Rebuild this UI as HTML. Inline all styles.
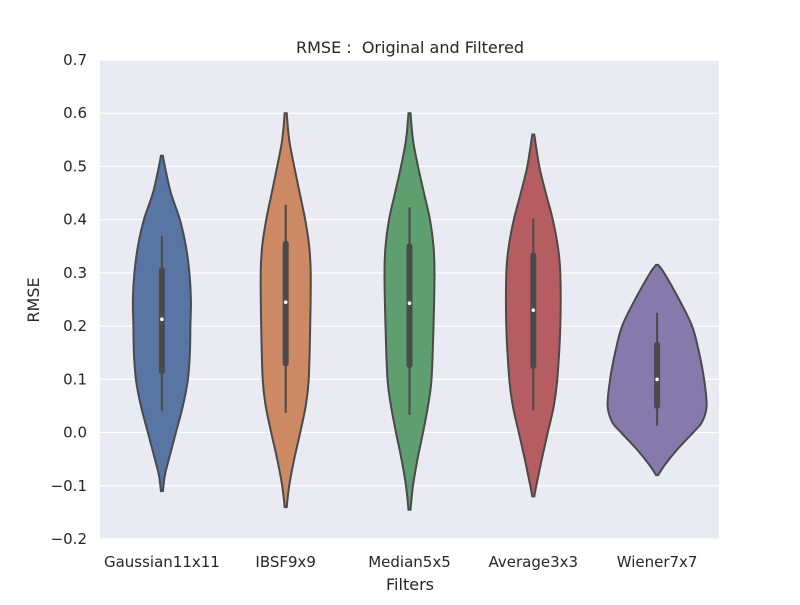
<!DOCTYPE html>
<html><head><meta charset="utf-8">
<style>
body{margin:0;background:#fff;}
svg text{font-family:"DejaVu Sans","Liberation Sans",sans-serif;fill:#262626;white-space:pre;}
</style></head>
<body>
<svg id="chart" width="800" height="600" viewBox="0 0 800 600" xmlns="http://www.w3.org/2000/svg">
<rect x="100" y="60" width="619" height="479" fill="#eaeaf2"/>
<g id="grid"></g>
<g id="violins"></g>
<g id="ticks"></g>
<text x="410" y="53" text-anchor="middle" font-size="16">RMSE :&#160; Original and Filtered</text>
<text x="410" y="590" text-anchor="middle" font-size="16">Filters</text>
<text x="39" y="300" text-anchor="middle" font-size="16" transform="rotate(-90 39 300)">RMSE</text>
</svg>
<script>
const categories = ["Gaussian11x11","IBSF9x9","Median5x5","Average3x3","Wiener7x7"];
const colors = ["#5875a4","#cc8963","#5f9e6e","#b55d60","#857aab"];
const yTicks = [-0.2,-0.1,0.0,0.1,0.2,0.3,0.4,0.5,0.6,0.7];
// density profiles: values (y) and half-widths (relative density)
const profVals = [
 [0.52,0.50,0.45,0.40,0.35,0.30,0.25,0.20,0.15,0.10,0.05,0.0,-0.05,-0.08,-0.11],
 [0.60,0.55,0.50,0.45,0.40,0.35,0.30,0.20,0.10,0.05,0.0,-0.05,-0.10,-0.14],
 [0.60,0.55,0.50,0.45,0.40,0.35,0.30,0.20,0.10,0.05,0.0,-0.05,-0.10,-0.145],
 [0.56,0.50,0.45,0.40,0.35,0.30,0.20,0.10,0.05,0.0,-0.05,-0.10,-0.12],
 [0.315,0.30,0.25,0.20,0.15,0.10,0.05,0.02,0.0,-0.03,-0.06,-0.08]
];
const profDens = [
 [1,3,9,18,24,27.5,29,28.5,28,26,21,14,7,3,1],
 [1,3.5,8.5,14,19.5,23.5,25,24.5,23,20,14.5,8.5,3.5,1],
 [1,3.5,8.5,14.5,20.5,24,25,24,22,18.5,13.5,8,3.5,1],
 [1,6,12.5,19.5,24.5,27,27,24,20.5,14.5,8.5,3,1],
 [1,7,22,35,42,47,49.5,45,36,21,8,1]
];
const q1 = [0.115,0.13,0.127,0.125,0.05];
const q3 = [0.305,0.355,0.35,0.333,0.165];
const medians = [0.213,0.245,0.243,0.23,0.10];
const whiskLo = [0.04,0.037,0.033,0.042,0.013];
const whiskHi = [0.37,0.428,0.423,0.402,0.225];

const NS="http://www.w3.org/2000/svg";
const plotL=100,plotR=719,plotT=60,plotB=539,yMin=-0.2,yMax=0.7;
const y=v=>plotB-(v-yMin)/(yMax-yMin)*(plotB-plotT);
const band=(plotR-plotL)/categories.length;
const x=i=>plotL+band*(i+0.5);
function mk(tag,attrs,parent){const e=document.createElementNS(NS,tag);for(const k in attrs)e.setAttribute(k,attrs[k]);parent.appendChild(e);return e;}
const grid=document.getElementById('grid'),tk=document.getElementById('ticks'),vg=document.getElementById('violins');
yTicks.forEach(t=>{
 const l=mk('line',{x1:plotL,x2:plotR,y1:y(t),y2:y(t),stroke:'#fff','stroke-width':1.2},grid);
 
 
 const tx=mk('text',{x:plotL-13,y:y(t)+5,'text-anchor':'end','font-size':15},tk);
 tx.textContent=(t<0?'\u2212'+Math.abs(t).toFixed(1):t.toFixed(1));
 
 
});
function smooth(pts){
 let d='M'+pts[0][0]+','+pts[0][1];
 for(let i=0;i<pts.length-1;i++){
  const p0=pts[Math.max(0,i-1)],p1=pts[i],p2=pts[i+1],p3=pts[Math.min(pts.length-1,i+2)];
  const c1=[p1[0]+(p2[0]-p0[0])/6,p1[1]+(p2[1]-p0[1])/6];
  const c2=[p2[0]-(p3[0]-p1[0])/6,p2[1]-(p3[1]-p1[1])/6];
  d+=' C'+c1[0]+','+c1[1]+' '+c2[0]+','+c2[1]+' '+p2[0]+','+p2[1];
 }
 return d;
}
categories.forEach((c,i)=>{
 const cx=x(i);
 const right=profVals[i].map((v,j)=>[cx+profDens[i][j],y(v)]);
 const left=profVals[i].map((v,j)=>[cx-profDens[i][j],y(v)]).reverse();
 let d=smooth(right)+' L'+left[0][0]+','+left[0][1]+smooth(left).replace(/^M[^ ]+/,'')+' Z';
 const p=mk('path',{d:d,fill:colors[i],stroke:'#4a4a4a','stroke-width':2},vg);
 
 
 const w=mk('line',{x1:cx,x2:cx,y1:y(whiskLo[i]),y2:y(whiskHi[i]),stroke:'#4a4a4a','stroke-width':2},vg);
 
 
 const b=mk('line',{x1:cx,x2:cx,y1:y(q1[i]),y2:y(q3[i]),stroke:'#4a4a4a','stroke-width':6,'stroke-linecap':'round'},vg);
 
 
 const m=mk('circle',{cx:cx,cy:y(medians[i]),r:1.8,fill:'#fff'},vg);
 
 
 const t=mk('text',{x:cx,y:567,'text-anchor':'middle','font-size':15},tk);
 t.textContent=c;
 
 
});
</script>
</body></html>
